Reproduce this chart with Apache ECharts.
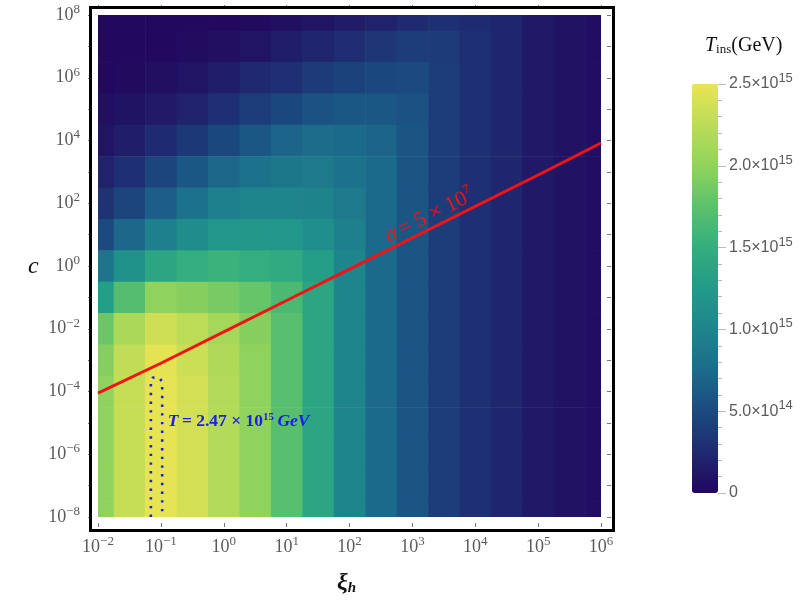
<!DOCTYPE html>
<html>
<head>
<meta charset="utf-8">
<script src="https://cdn.jsdelivr.net/npm/echarts@6/dist/echarts.min.js"></script>
<style>
  html, body {margin:0;padding:0;background:#ffffff;}
  #chart {width:810px;height:604px;}
</style>
</head>
<body>
<div id="chart"></div>
<script>
    // log10(xi_h) of every column, log10(c) of every row (top row first)
    var xiExp = [-2, -1.5, -1, -0.5, 0, 0.5, 1, 1.5, 2, 2.5, 3, 3.5, 4, 4.5, 5, 5.5, 6];
    var cExp = [8, 7, 6, 5, 4, 3, 2, 1, 0, -1, -2, -3, -4, -5, -6, -7, -8];

    // T_ins in units of 1e15 GeV, one row per cExp entry
    var tInsRows = [
        [0.02,0.02,0.02,0.02,0.02,0.03,0.06,0.10,0.15,0.20,0.25,0.30,0.26,0.22,0.13,0.08,0.05],
        [0.02,0.02,0.02,0.04,0.07,0.10,0.16,0.22,0.28,0.35,0.40,0.38,0.29,0.22,0.13,0.08,0.05],
        [0.02,0.03,0.06,0.10,0.16,0.24,0.30,0.38,0.44,0.48,0.50,0.40,0.29,0.22,0.13,0.08,0.05],
        [0.06,0.09,0.14,0.20,0.30,0.40,0.48,0.56,0.60,0.60,0.56,0.40,0.29,0.22,0.13,0.08,0.05],
        [0.10,0.16,0.26,0.36,0.48,0.60,0.70,0.76,0.74,0.70,0.58,0.40,0.29,0.22,0.13,0.08,0.05],
        [0.20,0.30,0.45,0.60,0.72,0.82,0.87,0.88,0.82,0.74,0.58,0.40,0.29,0.22,0.13,0.08,0.05],
        [0.31,0.45,0.65,0.82,0.95,1.00,1.00,0.98,0.88,0.74,0.58,0.40,0.29,0.22,0.13,0.08,0.05],
        [0.50,0.72,0.95,1.10,1.20,1.22,1.20,1.12,0.95,0.74,0.58,0.40,0.29,0.22,0.13,0.08,0.05],
        [0.85,1.15,1.40,1.50,1.55,1.50,1.45,1.30,1.00,0.74,0.58,0.40,0.29,0.22,0.13,0.08,0.05],
        [1.30,1.70,2.00,1.95,1.88,1.80,1.65,1.40,1.00,0.74,0.58,0.40,0.29,0.22,0.13,0.08,0.05],
        [1.82,2.15,2.35,2.25,2.12,1.95,1.72,1.40,1.00,0.74,0.58,0.40,0.29,0.22,0.13,0.08,0.05],
        [1.95,2.28,2.47,2.33,2.18,2.00,1.72,1.40,1.00,0.74,0.58,0.40,0.29,0.22,0.13,0.08,0.05],
        [2.00,2.30,2.49,2.38,2.20,2.00,1.72,1.40,1.00,0.74,0.58,0.40,0.29,0.22,0.13,0.08,0.05],
        [2.00,2.30,2.49,2.38,2.20,2.00,1.72,1.40,1.00,0.74,0.58,0.40,0.29,0.22,0.13,0.08,0.05],
        [2.00,2.30,2.49,2.38,2.20,2.00,1.72,1.40,1.00,0.74,0.58,0.40,0.29,0.22,0.13,0.08,0.05],
        [2.00,2.30,2.49,2.38,2.20,2.00,1.72,1.40,1.00,0.74,0.58,0.40,0.29,0.22,0.13,0.08,0.05],
        [2.00,2.30,2.49,2.38,2.20,2.00,1.72,1.40,1.00,0.74,0.58,0.40,0.29,0.22,0.13,0.08,0.05]
    ];

    // alpha = 5e7 line (log10 xi, log10 c)
    var alphaXi = [-2, -1, 0, 1, 2, 3, 4, 5, 6];
    var alphaC  = [-4.05, -3.1, -2.1, -1.1, -0.1, 0.9, 1.9, 2.9, 3.92];

    // T = 2.47e15 GeV contour
    var contourXi = [-1.159, -1.159, -1.13, -1.07, -1.01, -0.979, -0.979];
    var contourC  = [-8, -3.65, -3.56, -3.54, -3.6, -3.7, -8];

    // colour bar
    var cbarMax = 2.5;
    var cbarColors = ['#22065d','#1f2a70','#1b4a80','#1c6b8b','#1f858c','#229a89','#33ae7e','#5cc16c','#90d35c','#bcdc57','#e9e453'];

    var cells = [];
    for (var r = 0; r < cExp.length; r++) {
        for (var k = 0; k < xiExp.length; k++) {
            cells.push([xiExp[k], cExp[r], tInsRows[r][k]]);
        }
    }
    var alphaLine = alphaXi.map(function (v, i) { return [v, alphaC[i]]; });
    var contourLine = contourXi.map(function (v, i) { return [v, contourC[i]]; });

    var halfX = (xiExp[1] - xiExp[0]) / 2, halfY = (cExp[0] - cExp[1]) / 2;
    var xMin = xiExp[0], xMax = xiExp[xiExp.length - 1];
    var yMin = cExp[cExp.length - 1], yMax = cExp[0];

    function renderCell(params, api) {
        var lx = api.value(0), lc = api.value(1);
        var p0 = api.coord([Math.max(lx - halfX, xMin), Math.min(lc + halfY, yMax)]);
        var p1 = api.coord([Math.min(lx + halfX, xMax), Math.max(lc - halfY, yMin)]);
        return {
            type: 'rect',
            shape: {x: p0[0], y: p0[1], width: p1[0] - p0[0] + 0.6, height: p1[1] - p0[1] + 0.6},
            style: {fill: api.visual('color')}
        };
    }

    var serif = '"Liberation Serif", "DejaVu Serif", serif';
    var sans = '"Liberation Sans", Arial, sans-serif';
    var powRich = {
        b: {fontFamily: serif, fontSize: 18, color: '#5a5a5a'},
        s: {fontFamily: serif, fontSize: 13, color: '#5a5a5a', padding: [0, 0, 11, 0]}
    };
    function powLabel(v) {
        return '{b|10}{s|' + String(Math.round(v)).replace('-', '\u2212') + '}';
    }
    var frameTick = {inside: true, length: 4, lineStyle: {color: '#777'}};

    var chart = echarts.init(document.getElementById('chart'));

    var option = {
        backgroundColor: '#ffffff',
        animation: false,
        grid: [
            {left: 98, top: 15, width: 503, height: 502},
            {left: 692, top: 84, width: 26, height: 409}
        ],
        xAxis: [
            {gridIndex: 0, type: 'value', min: -2, max: 6, interval: 1, position: 'bottom', offset: 10,
             axisLine: {show: false, onZero: false}, splitLine: {show: false}, axisTick: frameTick,
             axisLabel: {margin: 8, formatter: powLabel, rich: powRich}},
            {gridIndex: 0, type: 'value', min: -2, max: 6, interval: 1, position: 'top', offset: 10,
             axisLine: {show: false, onZero: false}, splitLine: {show: false}, axisLabel: {show: false},
             axisTick: frameTick},
            {gridIndex: 1, type: 'value', show: false, min: 0, max: 1}
        ],
        yAxis: [
            {gridIndex: 0, type: 'value', min: -8, max: 8, interval: 1, position: 'left', offset: 10,
             axisLine: {show: false, onZero: false}, splitLine: {show: false}, axisTick: frameTick,
             axisLabel: {margin: 8, formatter: function (v) { return Math.round(v) % 2 === 0 ? powLabel(v) : ''; }, rich: powRich}},
            {gridIndex: 0, type: 'value', min: -8, max: 8, interval: 1, position: 'right', offset: 10,
             axisLine: {show: false, onZero: false}, splitLine: {show: false}, axisLabel: {show: false},
             axisTick: frameTick},
            {gridIndex: 1, type: 'value', min: 0, max: cbarMax, interval: 0.5, position: 'right',
             axisLine: {show: false, onZero: false}, splitLine: {show: false},
             axisTick: {length: 8, lineStyle: {color: '#bbb'}},
             minorTick: {show: true, splitNumber: 5, length: 4, lineStyle: {color: '#bbb'}},
             axisLabel: {
                 margin: 11,
                 formatter: function (v) {
                     if (v === 0) return '{m|0}';
                     if (v < 1) return '{m|' + (v * 10).toFixed(1) + '\u00d710}{s|14}';
                     return '{m|' + v.toFixed(1) + '\u00d710}{s|15}';
                 },
                 rich: {
                     m: {fontFamily: sans, fontSize: 16, color: '#5a5a5a'},
                     s: {fontFamily: sans, fontSize: 13, color: '#5a5a5a', padding: [0, 0, 11, 0]}
                 }
             }}
        ],
        visualMap: {
            type: 'continuous', seriesIndex: 0, dimension: 2, min: 0, max: cbarMax,
            calculable: false, show: true, left: 692, top: 84, itemWidth: 26, itemHeight: 409,
            padding: 0, text: null, showLabel: false,
            inRange: {color: cbarColors}
        },
        series: [
            {type: 'custom', xAxisIndex: 0, yAxisIndex: 0, renderItem: renderCell,
             encode: {x: 0, y: 1}, data: cells, clip: true, silent: true},
            {type: 'line', xAxisIndex: 0, yAxisIndex: 0, data: alphaLine, symbol: 'none',
             lineStyle: {color: '#f01414', width: 3}, silent: true, z: 5},
            {type: 'line', xAxisIndex: 0, yAxisIndex: 0, data: contourLine, symbol: 'none',
             lineStyle: {color: '#1c1cf0', width: 2.6, type: [2.4, 6.3], cap: 'butt'}, silent: true, z: 5}
        ]
    };
    chart.setOption(option);

    var alphaPos = chart.convertToPixel({gridIndex: 0}, [3.27, 1.6]);
    var tPos = chart.convertToPixel({gridIndex: 0}, [-0.889, -4.97]);

    chart.setOption({
        graphic: [
            {type: 'rect', left: 88, top: 5, z: 10,
             shape: {width: 523, height: 523}, style: {fill: null, stroke: '#000', lineWidth: 3}},
            {type: 'text', x: alphaPos[0], y: alphaPos[1], rotation: 26.4 * Math.PI / 180, z: 11,
             style: {text: '{i|\u03b1} {n|= 5 \u00d7 10}{s|7}', align: 'center', verticalAlign: 'middle',
                     rich: {i: {fontFamily: serif, fontStyle: 'italic', fontSize: 22, fill: '#f01414'},
                            n: {fontFamily: serif, fontSize: 22, fill: '#f01414'},
                            s: {fontFamily: serif, fontSize: 14, fill: '#f01414', padding: [0, 0, 13, 0]}}}},
            {type: 'text', x: tPos[0], y: tPos[1], z: 11,
             style: {text: '{i|T} {n|= 2.47 \u00d7 10}{s|15} {i|GeV}', align: 'left', verticalAlign: 'middle',
                     rich: {i: {fontFamily: serif, fontStyle: 'italic', fontWeight: 'bold', fontSize: 17.5, fill: '#1c1cf0'},
                            n: {fontFamily: serif, fontWeight: 'bold', fontSize: 17.5, fill: '#1c1cf0'},
                            s: {fontFamily: serif, fontWeight: 'bold', fontSize: 11, fill: '#1c1cf0', padding: [0, 0, 10, 0]}}}},
            {type: 'text', left: 705, top: 36,
             style: {text: '{i|T}{u|ins}{n|(GeV)}',
                     rich: {i: {fontFamily: serif, fontStyle: 'italic', fontSize: 20, fill: '#111'},
                            u: {fontFamily: serif, fontSize: 13, fill: '#111', padding: [8, 0, 0, 0]},
                            n: {fontFamily: serif, fontSize: 20, fill: '#111'}}}},
            {type: 'text', left: 28, top: 255,
             style: {text: 'c', fontFamily: serif, fontStyle: 'italic', fontSize: 24, fill: '#111'}},
            {type: 'text', left: 337, top: 571,
             style: {text: '{i|\u03be}{u|h}',
                     rich: {i: {fontFamily: serif, fontStyle: 'italic', fontWeight: 'bold', fontSize: 24, fill: '#111'},
                            u: {fontFamily: serif, fontStyle: 'italic', fontWeight: 'bold', fontSize: 15, fill: '#111', padding: [10, 0, 0, 0]}}}}
        ]
    });
</script>
</body>
</html>
